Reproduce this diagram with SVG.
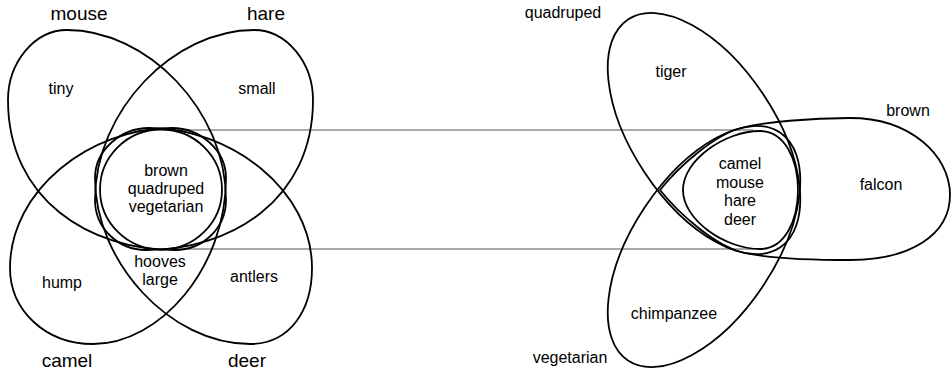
<svg xmlns="http://www.w3.org/2000/svg" width="951" height="374" viewBox="0 0 951 374">
<style>
.s{fill:none;stroke:#000;stroke-width:1.8}
.ln{fill:none;stroke:#555;stroke-width:1}
text{font-family:"Liberation Sans",Arial,sans-serif;fill:#000;text-anchor:middle}
.big{font-size:19px}
.sm{font-size:16px}
</style>
<rect width="951" height="374" fill="#fff"/>
<g id="connectors">
<line class="ln" x1="165" y1="130" x2="753" y2="130"/>
<line class="ln" x1="165" y1="249" x2="753" y2="249"/>
</g>
<g id="mouse">
<path class="s" d="M175,250 C90,250 8,200 8,100 C8,63 34,30 67,30 C147,30 226,110 226,200 C226,228 203,250 175,250 Z"/>
<text class="big" x="79" y="20">mouse</text>
<text class="sm" x="61" y="94">tiny</text>
</g>
<g id="hare">
<path class="s" transform="matrix(-1,0,0,1,321,0)" d="M175,250 C90,250 8,200 8,100 C8,63 34,30 67,30 C147,30 226,110 226,200 C226,228 203,250 175,250 Z"/>
<text class="big" x="266" y="20">hare</text>
<text class="sm" x="257" y="94">small</text>
</g>
<g id="camel">
<path class="s" d="M172,128 C200,128 226,150 226,178 C226,268 160,344 93,344 C45,344 10,310 10,268 C10,190 90,128 172,128 Z"/>
<text class="big" x="67" y="367">camel</text>
<text class="sm" x="62" y="288">hump</text>
</g>
<g id="deer">
<path class="s" d="M149,128 C121,128 95,150 95,178 C95,262 170,344 250,344 C290,344 312,310 312,268 C312,190 231,128 149,128 Z"/>
<text class="big" x="247" y="367">deer</text>
<text class="sm" x="254" y="282">antlers</text>
</g>
<g id="common">
<ellipse class="s" cx="161" cy="189.5" rx="61" ry="60"/>
<text class="sm" x="166" y="176">brown</text>
<text class="sm" x="166" y="194">quadruped</text>
<text class="sm" x="166" y="212">vegetarian</text>
</g>
<g id="hooves">
<text class="sm" x="160" y="267">hooves</text>
<text class="sm" x="160" y="285">large</text>
</g>
<g id="quadruped">
<ellipse class="s" cx="704" cy="133.5" rx="137" ry="71" transform="rotate(56.3 704 133.5)"/>
<text class="sm" x="563" y="18">quadruped</text>
<text class="sm" x="671" y="77">tiger</text>
</g>
<g id="vegetarian">
<ellipse class="s" cx="704" cy="246.5" rx="137" ry="71" transform="rotate(-56.3 704 246.5)"/>
<text class="sm" x="570" y="363">vegetarian</text>
<text class="sm" x="674" y="319">chimpanzee</text>
</g>
<g id="brown">
<path class="s" d="M660,190 C680,165 715,135 741,128 C765,122 810,118 850,118 C910,118 950,155 950,195 C950,235 910,260 850,260 C810,260 765,258 741,252 C715,245 680,215 660,190 Z"/>
<text class="sm" x="908" y="116">brown</text>
<text class="sm" x="881" y="190">falcon</text>
</g>
<g id="animals">
<path class="s" d="M683,190 C683,160 725,131 760,131 C785,131 798,160 798,190 C798,220 785,249 760,249 C725,249 683,220 683,190 Z"/>
<text class="sm" x="740" y="169">camel</text>
<text class="sm" x="740" y="188">mouse</text>
<text class="sm" x="740" y="206">hare</text>
<text class="sm" x="740" y="225">deer</text>
</g>
</svg>
